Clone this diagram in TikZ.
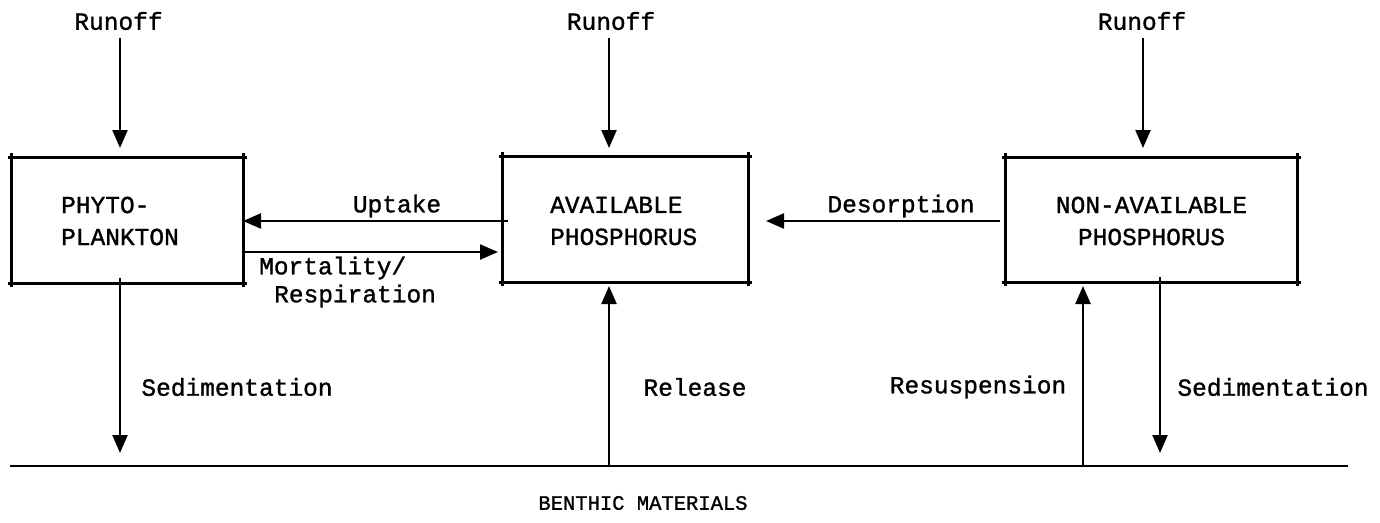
\documentclass[tikz,border=0pt]{standalone}
\usepackage{fontspec}
\setmainfont{Liberation Mono}[FakeBold=1.2]
\usetikzlibrary{arrows.meta}
\begin{document}
\begin{tikzpicture}[x=1pt,y=-1pt,
  lbl/.style={font=\fontsize{24.5}{28}\selectfont, inner sep=0pt},
  boxtext/.style={font=\fontsize{24.5}{32}\selectfont, align=left, inner sep=0pt},
  edge/.style={line width=2.8pt, line cap=butt},
  arr/.style={line width=2.3pt, -{Triangle[width=15pt,length=18pt]}},
  ln/.style={line width=2.3pt}]
\useasboundingbox (0,0) rectangle (1380,522);
% boxes (invisible frames; edges drawn with overshoot)
\node[minimum width=231pt, minimum height=125pt, inner sep=0pt] (b1) at (127.5,220.5) {};
\node[minimum width=245pt, minimum height=125pt, inner sep=0pt] (b2) at (625.5,219.5) {};
\node[minimum width=291pt, minimum height=124pt, inner sep=0pt] (b3) at (1151.5,220) {};
\foreach \b in {b1,b2,b3}{
  \draw[edge] ([xshift=-4pt]\b.north west) -- ([xshift=4pt]\b.north east);
  \draw[edge] ([xshift=-4pt]\b.south west) -- ([xshift=4pt]\b.south east);
  \draw[edge] ([yshift=5pt]\b.north west) -- ([yshift=-4pt]\b.south west);
  \draw[edge] ([yshift=5pt]\b.north east) -- ([yshift=-4pt]\b.south east);
}
\node[boxtext, anchor=west] (t1) at (61,221) {PHYTO-\\PLANKTON};
\node[boxtext, anchor=west] (t2) at (550,221) {AVAILABLE\\PHOSPHORUS};
\node[boxtext, align=center] (t3) at (1151.5,221) {NON-AVAILABLE\\PHOSPHORUS};
% runoff
\node[lbl] (r1) at (118.5,21) {Runoff};
\node[lbl] (r2) at (611,21) {Runoff};
\node[lbl] (r3) at (1142,21) {Runoff};
\coordinate (r1e) at (120,148);
\coordinate (r2e) at (609,148);
\coordinate (r3e) at (1143,148);
\coordinate (r1s) at (120,38);
\coordinate (r2s) at (609,38);
\coordinate (r3s) at (1143,38);
\draw[arr] (r1s) -- (r1e);
\draw[arr] (r2s) -- (r2e);
\draw[arr] (r3s) -- (r3e);
% horizontal flows
\coordinate (u1) at (508,221);
\coordinate (u2) at (243,221);
\draw[arr] (u1) -- (u2);
\node[lbl] (uptake) at (397,206) {Uptake};
\coordinate (m1) at (243,252);
\coordinate (m2) at (498,252);
\draw[arr] (m1) -- (m2);
\node[lbl, anchor=west] (mort) at (259,268) {Mortality/};
\node[lbl, anchor=west] (resp) at (274,296) {Respiration};
\coordinate (d1) at (1000,221);
\coordinate (d2) at (766,221);
\draw[arr] (d1) -- (d2);
\node[lbl] (desorp) at (901,206) {Desorption};
% benthic line
\coordinate (bl) at (10,466);
\coordinate (br) at (1348,466);
\draw[ln] (bl) -- (br);
\node[font=\fontsize{20.5}{24}\selectfont, inner sep=0pt] (benthic) at (643,503) {BENTHIC MATERIALS};
% vertical flows to/from benthic
\coordinate (s1a) at (120,278);
\coordinate (s1b) at (120,453);
\draw[arr] (s1a) -- (s1b);
\node[lbl] (sed1) at (237,387) {Sedimentation};
\coordinate (rla) at (609,466);
\coordinate (rlb) at (609,286);
\draw[arr] (rla) -- (rlb);
\node[lbl] (release) at (695,387) {Release};
\coordinate (rsa) at (1083,466);
\coordinate (rsb) at (1083,286);
\draw[arr] (rsa) -- (rsb);
\node[lbl] (resusp) at (978,387) {Resuspension};
\coordinate (s3a) at (1160,277);
\coordinate (s3b) at (1160,453);
\draw[arr] (s3a) -- (s3b);
\node[lbl] (sed3) at (1273,387) {Sedimentation};
\end{tikzpicture}
\end{document}
